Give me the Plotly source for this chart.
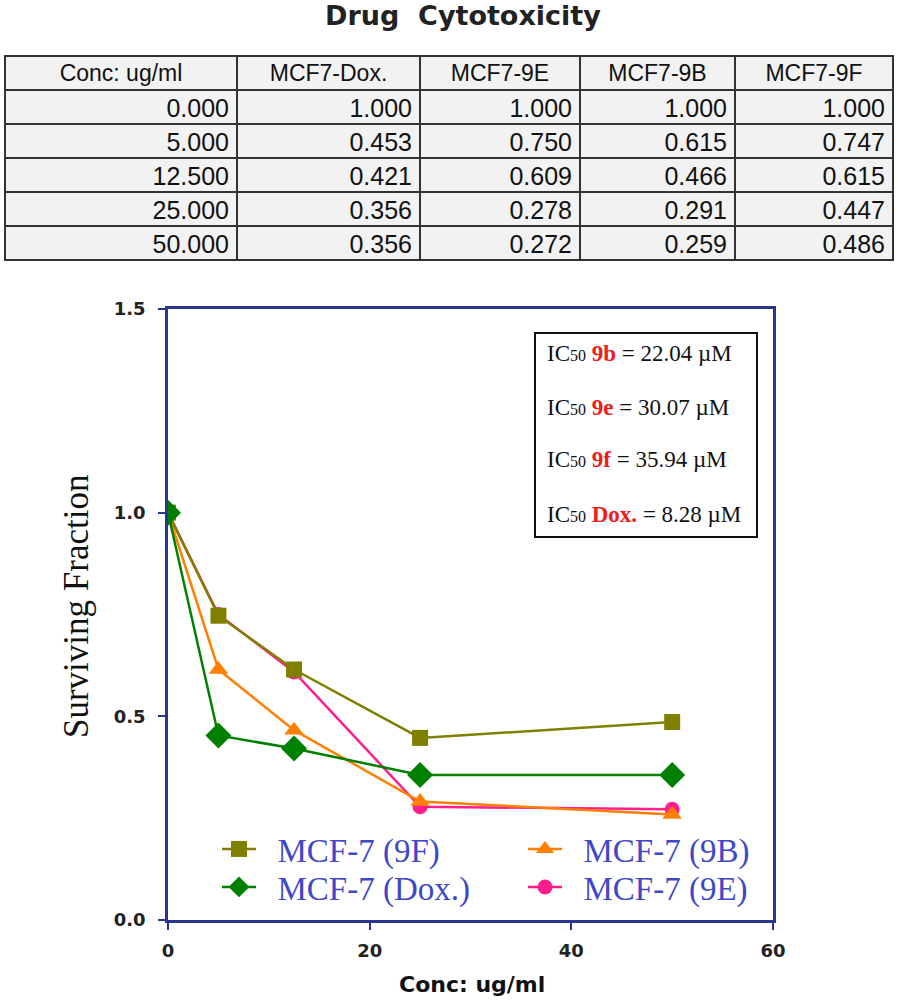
import plotly.graph_objects as go

# ---- data ----
conc = [0, 5, 12.5, 25, 50]
conc_labels = ["0.000", "5.000", "12.500", "25.000", "50.000"]
dox = [1.000, 0.453, 0.421, 0.356, 0.356]
e9 = [1.000, 0.750, 0.609, 0.278, 0.272]
b9 = [1.000, 0.615, 0.466, 0.291, 0.259]
f9 = [1.000, 0.747, 0.615, 0.447, 0.486]
table_headers = ["Conc: ug/ml", "MCF7-Dox.", "MCF7-9E", "MCF7-9B", "MCF7-9F"]
ic50_names = ["9b", "9e", "9f", "Dox."]
ic50_vals = ["22.04", "30.07", "35.94", "8.28"]
x_ticks = [0, 20, 40, 60]
y_ticks = [0.0, 0.5, 1.0, 1.5]

W, H = 898, 1000
def fx(x):
    return x / W
def fy(y):
    return 1 - y / H

navy = "#2B3590"
serif = "Liberation Serif, Times New Roman, serif"
sans = "Liberation Sans, Arial, sans-serif"
bold_sans = "DejaVu Sans, Arial Black, sans-serif"

fig = go.Figure()

# ---- table ----
fmt = lambda v: [f"{x:.3f}" for x in v]
fig.add_trace(go.Table(
    domain=dict(x=[fx(5), fx(893)], y=[fy(263), fy(56)]),
    columnwidth=[232, 183, 160, 155, 158],
    header=dict(values=table_headers, align="center", height=34,
                fill_color="#f2f2f2", line=dict(color="#333333", width=2),
                font=dict(family=sans, size=23, color="#111")),
    cells=dict(values=[conc_labels, fmt(dox), fmt(e9), fmt(b9), fmt(f9)],
               align="right", height=34,
               fill_color="#f2f2f2", line=dict(color="#333333", width=2),
               font=dict(family=sans, size=25, color="#111")),
))

# ---- lines ----
NB = "\u00a0\u00a0"
series = [
    ("MCF-7 (9E)", e9, "#FF1E8C", "circle", 15, "legend4"),
    ("MCF-7 (9B)", b9, "#FF8000", "triangle-up", 17, "legend3"),
    ("MCF-7 (9F)", f9, "#808000", "square", 16, "legend"),
    ("MCF-7 (Dox.)", dox, "#008000", "diamond", 20, "legend2"),
]
for name, vals, col, sym, sz, leg in series:
    fig.add_trace(go.Scatter(
        x=conc, y=vals, name=NB + name, mode="lines+markers",
        line=dict(color=col, width=2.5),
        marker=dict(symbol=sym, size=sz, color=col),
        legend=leg,
    ))

tickfont = dict(family=bold_sans, size=18, color="#222", weight="bold")
legfont = dict(family=serif, size=33, color="#3F48C8")
row1, row2 = 852, 890
col1, col2 = 217, 523
def leg(xl, yc):
    return dict(x=fx(xl), y=fy(yc - 31), xanchor="left", yanchor="top",
                bgcolor="rgba(0,0,0,0)", itemwidth=34, font=legfont)

fig.update_layout(
    width=W, height=H,
    margin=dict(l=0, r=0, t=0, b=0),
    paper_bgcolor="white", plot_bgcolor="white",
    showlegend=True,
    xaxis=dict(domain=[fx(168), fx(773)], range=[0, 60], tickvals=x_ticks,
               showgrid=False, zeroline=False, showline=True, linecolor=navy,
               linewidth=2.5, mirror=True, ticks="outside", ticklen=7,
               tickcolor=navy, tickwidth=2, tickfont=tickfont, automargin=False,
               ticklabelstandoff=6),
    yaxis=dict(domain=[fy(920), fy(309)], range=[0, 1.5], tickvals=y_ticks,
               tickformat=".1f",
               showgrid=False, zeroline=False, showline=True, linecolor=navy,
               linewidth=2.5, mirror=True, ticks="outside", ticklen=7,
               tickcolor=navy, tickwidth=2, tickfont=tickfont, automargin=False,
               ticklabelstandoff=9),
    legend=leg(col1, row1),
    legend2=leg(col1, row2),
    legend3=leg(col2, row1),
    legend4=leg(col2, row2),
)

# ---- titles ----
fig.add_annotation(text="<b>Drug  Cytotoxicity</b>", xref="paper", yref="paper",
                   x=fx(463), y=fy(15), xanchor="center", yanchor="middle",
                   showarrow=False, font=dict(family=bold_sans, size=27, color="#222"))
fig.add_annotation(text="<b>Conc: ug/ml</b>", xref="paper", yref="paper",
                   x=fx(472), y=fy(984), xanchor="center", yanchor="middle",
                   showarrow=False, font=dict(family=bold_sans, size=22, color="#111"))
fig.add_annotation(text="Surviving Fraction", xref="paper", yref="paper",
                   x=fx(76), y=fy(607), xanchor="center", yanchor="middle",
                   textangle=-90, showarrow=False,
                   font=dict(family=serif, size=35, color="#111"))

# ---- IC50 box ----
fig.add_shape(type="rect", xref="paper", yref="paper",
              x0=fx(535), x1=fx(757), y0=fy(537), y1=fy(333),
              line=dict(color="#111", width=2), fillcolor="white")
line_y = [353, 407, 460, 514]
for nm, v, yy in zip(ic50_names, ic50_vals, line_y):
    fig.add_annotation(
        text=f"IC<span style='font-size:16px'>50</span> <b><span style='color:#EE1C1C'>{nm}</span></b> = {v} µM",
        xref="paper", yref="paper", x=fx(545), y=fy(yy),
        xanchor="left", yanchor="middle", showarrow=False,
        font=dict(family=serif, size=23, color="#111"))

fig.write_html("out.html", config={"displayModeBar": False},
               post_script="document.body.style.margin='0';")
